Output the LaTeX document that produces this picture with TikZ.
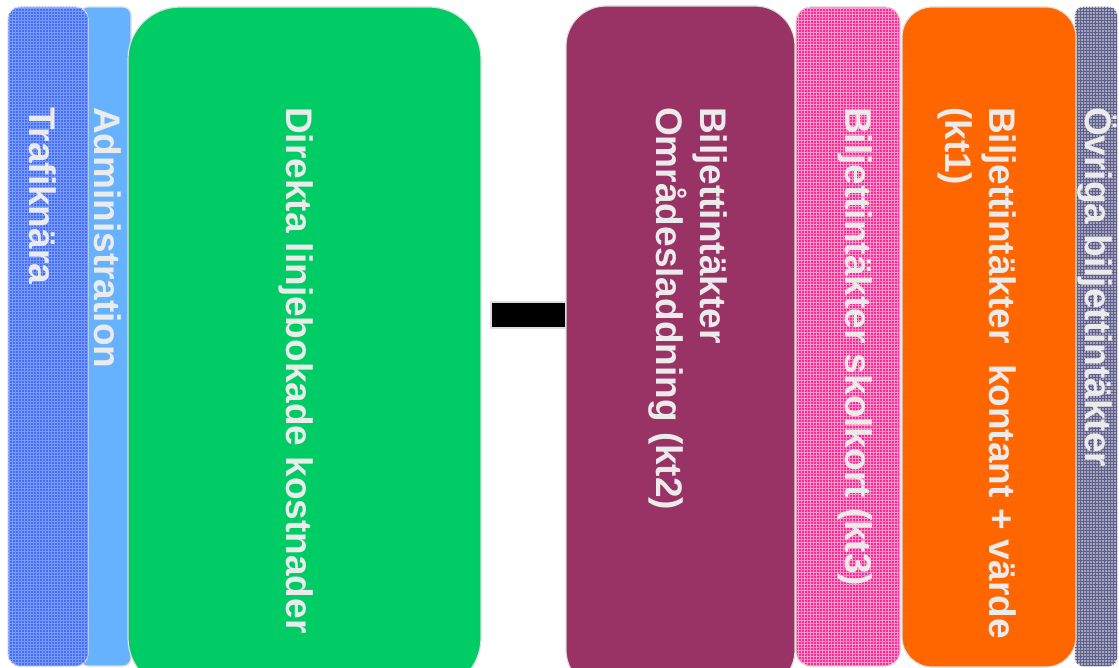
\documentclass[tikz,border=0pt]{standalone}
\usepackage{fontspec}
\setmainfont{Liberation Sans}
\usetikzlibrary{patterns}
\definecolor{trafblue}{RGB}{70,110,245}
\definecolor{trafline}{RGB}{120,155,255}
\definecolor{adminblue}{RGB}{102,178,255}
\definecolor{directgreen}{RGB}{0,204,102}
\definecolor{areapurple}{RGB}{153,51,102}
\definecolor{schoolpink}{RGB}{255,40,140}
\definecolor{schoolline}{RGB}{255,150,205}
\definecolor{cashorange}{RGB}{255,102,0}
\definecolor{othergray}{RGB}{165,165,190}
\definecolor{otherline}{RGB}{95,95,140}
\definecolor{edgegray}{RGB}{222,222,222}
\definecolor{labelgray}{RGB}{235,235,235}
\tikzset{
   panel/.style={draw=edgegray, line width=1.2pt},
   plaid/.style={postaction={pattern=grid, pattern color=#1}},
   lbl/.style={text=labelgray, font=\fontsize{37}{44}\selectfont\bfseries,
               rotate=-90, inner sep=0pt},
}

\begin{document}
\begin{tikzpicture}[x=1pt,y=-1pt]
\useasboundingbox (0,0) rectangle (1119,668);
\clip (0,0) rectangle (1119,668);
% costs
\draw[panel, fill=adminblue, rounded corners=8pt] (80,7) rectangle (131,666);
\draw[panel, fill=trafblue, plaid=trafline, rounded corners=12pt] (8,7) rectangle (88,666);
\draw[panel, fill=directgreen, rounded corners=52pt] (128,7) rectangle (481,690);
\node[lbl, anchor=base west] (traf) at (29,107) {Trafiknära};
\node[lbl, anchor=base west] (admin) at (94,107) {Administration};
\node[lbl, anchor=base west] (direct) at (286,107) {Direkta linjebokade kostnader};
% minus
\node[draw=edgegray, line width=1.2pt, fill=black, minimum width=75pt, minimum height=26pt,
      inner sep=0pt] (minus) at (528.5,315) {};
% revenues
\draw[panel, fill=areapurple, rounded corners=40pt] (566,6) rectangle (795,690);
\draw[panel, fill=schoolpink, plaid=schoolline, rounded corners=15pt] (796,7) rectangle (900,666);
\draw[panel, fill=othergray, plaid=otherline, rounded corners=8pt] (1075,7) rectangle (1117,666);
\draw[panel, fill=cashorange, rounded corners=30pt] (902,7) rectangle (1076,667);
\node[lbl, anchor=north west, align=left] (kt2) at (728,107) {Biljettintäkter\\Områdesladdning  (kt2)};
\node[lbl, anchor=base west] (kt3) at (845,107) {Biljettintäkter skolkort (kt3)};
\node[lbl, anchor=north west, align=left] (kt1) at (1016,107) {Biljettintäkter~ kontant + värde\\(kt1)};
\node[lbl, anchor=base west] (other) at (1085,107) {Övriga biljettintäkter};
\end{tikzpicture}
\end{document}
